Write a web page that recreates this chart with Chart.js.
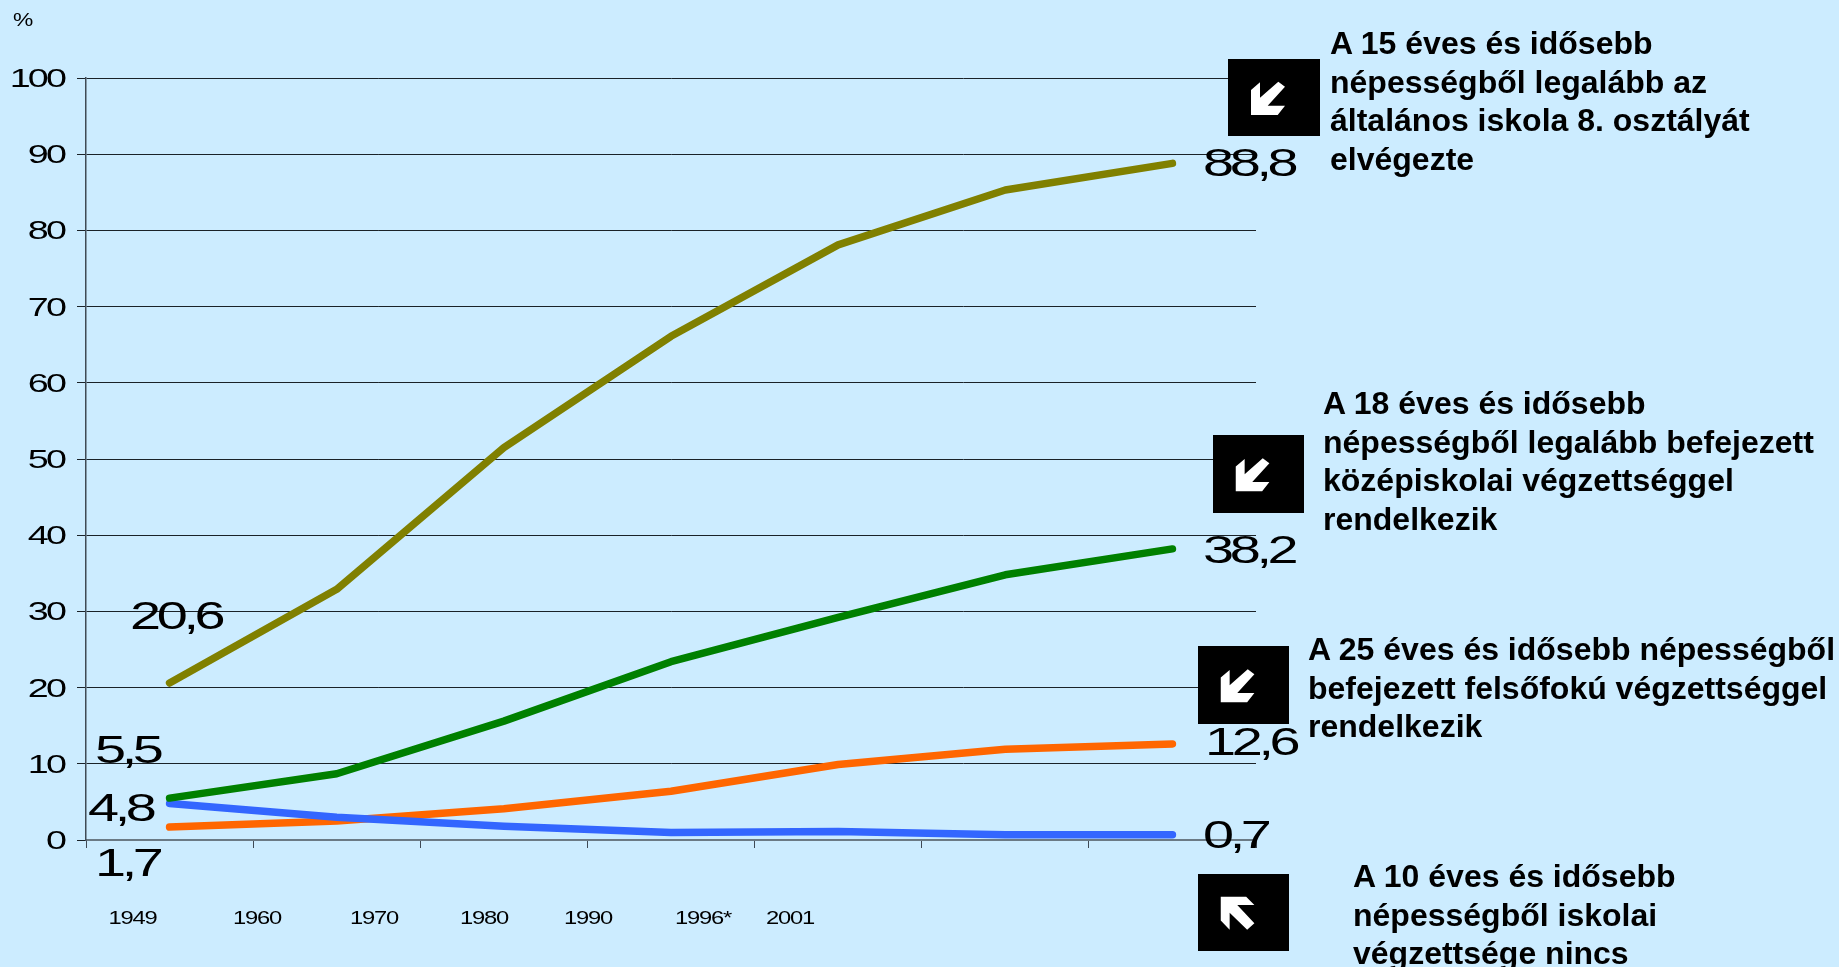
<!DOCTYPE html>
<html>
<head>
<meta charset="utf-8">
<script src="https://cdn.jsdelivr.net/npm/chart.js@4"></script>
<style>
    html, body { margin: 0; padding: 0; background: #CCECFF; overflow: hidden; }
    #wrap { position: relative; width: 1839px; height: 967px; }
    #chart { position: absolute; left: 0; top: 0; }
    .note { position: absolute; font: bold 32px/38.5px "Liberation Sans", sans-serif; color: #000; white-space: nowrap; }
    .box { position: absolute; background: #000; }
    .box svg { position: absolute; left: 0; top: 0; width: 100%; height: 100%; }
</style>
</head>
<body>
<div id="wrap">
    <canvas id="chart" width="1839" height="967"></canvas>

    <div class="box" style="left:1228px;top:59px;width:92px;height:77px"><svg viewBox="0 0 92 77"><polygon points="23,56 23,31 32,23.3 32,38.7 50.3,22.7 57,27.7 39.7,46.7 57,46.7 49.7,56" fill="#fff"/></svg></div>
    <div class="box" style="left:1213px;top:435px;width:91px;height:78px"><svg viewBox="0 0 92 77"><polygon points="23,56 23,31 32,23.3 32,38.7 50.3,22.7 57,27.7 39.7,46.7 57,46.7 49.7,56" fill="#fff"/></svg></div>
    <div class="box" style="left:1198px;top:646px;width:91px;height:78px"><svg viewBox="0 0 92 77"><polygon points="23,56 23,31 32,23.3 32,38.7 50.3,22.7 57,27.7 39.7,46.7 57,46.7 49.7,56" fill="#fff"/></svg></div>
    <div class="box" style="left:1198px;top:874px;width:91px;height:77px"><svg viewBox="0 0 92 77"><polygon points="23,22.7 48.7,22.7 57,31 39.7,31 57,49.3 49.7,56 32,38.7 32,56 23,46.7" fill="#fff"/></svg></div>

    <div class="note" style="left:1330px;top:24px">A 15 éves és idősebb<br>népességből legalább az<br>általános iskola 8. osztályát<br>elvégezte</div>
    <div class="note" style="left:1323px;top:384px">A 18 éves és idősebb<br>népességből legalább befejezett<br>középiskolai végzettséggel<br>rendelkezik</div>
    <div class="note" style="left:1308px;top:630px">A 25 éves és idősebb népességből<br>befejezett felsőfokú végzettséggel<br>rendelkezik</div>
    <div class="note" style="left:1353px;top:857px">A 10 éves és idősebb<br>népességből iskolai<br>végzettsége nincs</div>
</div>

<script>
// Iskolai vegzettseg, %
const categories = ['1949', '1960', '1970', '1980', '1990', '1996*', '2001'];
const yTicks = [0, 10, 20, 30, 40, 50, 60, 70, 80, 90, 100];

const eightGrade = [20.6, 32.9, 51.5, 66.1, 78.1, 85.3, 88.8];
const secondary = [5.5, 8.7, 15.6, 23.4, 29.2, 34.8, 38.2];
const higher = [1.7, 2.5, 4.1, 6.4, 9.9, 11.9, 12.6];
const noSchool = [4.8, 3.0, 1.8, 1.0, 1.1, 0.7, 0.7];

// Where the original slide has its labels, they do not sit under the points
const xLabelCenters = [132.5, 257, 374, 484, 588, 703, 790];

const valueLabels = [
    { data: eightGrade, idx: 6, x: 1203, y: 176 },
    { data: secondary, idx: 6, x: 1203, y: 563 },
    { data: higher, idx: 6, x: 1205, y: 755 },
    { data: noSchool, idx: 6, x: 1203, y: 848 },
    { data: eightGrade, idx: 0, x: 130, y: 629 },
    { data: secondary, idx: 0, x: 95, y: 763 },
    { data: noSchool, idx: 0, x: 88, y: 821 },
    { data: higher, idx: 0, x: 95, y: 876 }
];

// Slide text is stretched sideways with tight digits, so it goes through a scaled context
function stretchedText(ctx, text, x, y, size, stretch, spacing, align) {
    ctx.save();
    ctx.font = size + 'px "Liberation Sans", sans-serif';
    ctx.fillStyle = '#000';
    ctx.textAlign = align;
    ctx.textBaseline = 'alphabetic';
    ctx.letterSpacing = spacing + 'px';
    ctx.translate(x, y);
    ctx.scale(stretch, 1);
    ctx.fillText(text, 0, 0);
    ctx.restore();
}

const slideLabels = {
    id: 'slideLabels',
    afterDraw(chart) {
        const ctx = chart.ctx;
        const yScale = chart.scales.y;

        yScale.ticks.forEach(t => {
            stretchedText(ctx, String(t.value), 64, yScale.getPixelForValue(t.value) + 9, 26, 1.45, -2, 'right');
        });
        stretchedText(ctx, '%', 13, 26, 19, 1.2, 0, 'left');

        categories.forEach((c, i) => {
            stretchedText(ctx, c, xLabelCenters[i], 924, 19, 1.25, -1, 'center');
        });

        valueLabels.forEach(l => {
            const text = l.data[l.idx].toFixed(1).replace('.', ',');
            stretchedText(ctx, text, l.x, l.y, 38.5, 1.45, -3, 'left');
        });
    }
};

function lineSet(label, data, color) {
    return {
        label: label,
        data: data,
        borderColor: color,
        borderWidth: 7.5,
        borderCapStyle: 'round',
        borderJoinStyle: 'round',
        pointRadius: 0,
        tension: 0,
        fill: false
    };
}

new Chart(document.getElementById('chart'), {
    type: 'line',
    data: {
        labels: categories,
        datasets: [
            lineSet('A 15 éves és idősebb népességből legalább az általános iskola 8. osztályát elvégezte', eightGrade, '#808000'),
            lineSet('A 18 éves és idősebb népességből legalább befejezett középiskolai végzettséggel rendelkezik', secondary, '#008000'),
            lineSet('A 10 éves és idősebb népességből iskolai végzettsége nincs', noSchool, '#3366FF'),
            lineSet('A 25 éves és idősebb népességből befejezett felsőfokú végzettséggel rendelkezik', higher, '#FF6600')
        ]
    },
    options: {
        responsive: false,
        animation: false,
        layout: { padding: { left: 0, top: 78, right: 583, bottom: 0 } },
        plugins: { legend: { display: false }, tooltip: { enabled: false } },
        scales: {
            x: {
                type: 'category',
                offset: true,
                afterFit: s => { s.height = 127; },
                grid: { drawOnChartArea: false, drawTicks: true, tickLength: 8, color: '#3f4a55', offset: true },
                border: { display: true, color: '#6b7a85', width: 2 },
                ticks: { display: false }
            },
            y: {
                min: 0,
                max: 100,
                afterFit: s => { s.width = 86; },
                afterBuildTicks: s => { s.ticks = yTicks.map(v => ({ value: v })); },
                grid: { color: '#1a2228', lineWidth: 1, tickLength: 9 },
                border: { display: true, color: '#3f4a55', width: 1.5 },
                ticks: { display: false }
            }
        }
    },
    plugins: [slideLabels]
});
</script>
</body>
</html>
